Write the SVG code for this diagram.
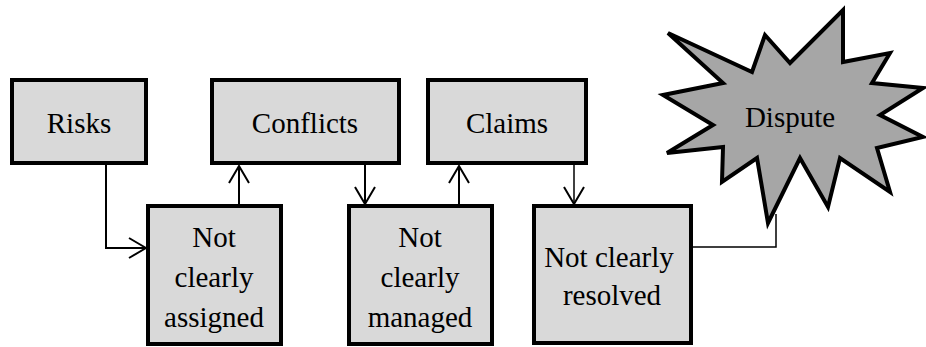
<svg xmlns="http://www.w3.org/2000/svg" width="926" height="347" viewBox="0 0 926 347">
<defs>
<style>
.box{fill:#d9d9d9;stroke:#000;stroke-width:4}
.star{fill:#a6a6a6;stroke:#000;stroke-width:4;stroke-linejoin:miter}
.t{font-family:'Liberation Serif','DejaVu Serif',serif;font-size:29px;fill:#000;text-anchor:middle}
.c{fill:none;stroke:#000;stroke-width:2}
.thin{fill:none;stroke:#000;stroke-width:1.5}
</style>
<marker id="arr" viewBox="0 0 20 24" refX="19" refY="12" markerWidth="20" markerHeight="24" markerUnits="userSpaceOnUse" orient="auto">
<path d="M2,2 L19,12 L2,22" fill="none" stroke="#000" stroke-width="2"/>
</marker>
</defs>
<rect width="926" height="347" fill="#fff"/>
<g id="connectors">
<path class="c" d="M106,165 V248 H146" marker-end="url(#arr)"/>
<path class="c" d="M239,204 V166" marker-end="url(#arr)"/>
<path class="c" d="M365,165 V204" marker-end="url(#arr)"/>
<path class="c" d="M459,204 V166" marker-end="url(#arr)"/>
<path class="thin" d="M574,165 V204" marker-end="url(#arr)"/>
<path class="thin" d="M693,247 H776 V214"/>
</g>
<g font-family="Liberation Serif, DejaVu Serif, serif">
<g id="risks">
<rect class="box" x="12" y="80" width="134" height="83"/>
<text class="t" x="79" y="133">Risks</text>
</g>
<g id="conflicts">
<rect class="box" x="212" y="80" width="187" height="83"/>
<text class="t" x="305" y="133">Conflicts</text>
</g>
<g id="claims">
<rect class="box" x="428" y="80" width="158" height="83"/>
<text class="t" x="507" y="133">Claims</text>
</g>
<g id="assigned">
<rect class="box" x="148" y="206" width="133" height="138"/>
<text class="t" x="214" y="247">Not</text>
<text class="t" x="214" y="287">clearly</text>
<text class="t" x="214" y="327">assigned</text>
</g>
<g id="managed">
<rect class="box" x="349" y="206" width="143" height="138"/>
<text class="t" x="420" y="247">Not</text>
<text class="t" x="420" y="287">clearly</text>
<text class="t" x="420" y="327">managed</text>
</g>
<g id="resolved">
<rect class="box" x="534" y="206" width="157" height="137"/>
<text class="t" x="609" y="267">Not clearly</text>
<text class="t" x="612" y="305">resolved</text>
</g>
<g id="dispute">
<polygon class="star" points="668,33 752,72 765,35 790,63 843,10 843,62 890,53 872,83 923,88 880,115 923,137 877,148 890,192 840,158 828,207 800,158 768,223 757,158 722,182 723,147 667,153 713,125 663,95 723,83"/>
<text class="t" x="790" y="127">Dispute</text>
</g>
</g>
</svg>
